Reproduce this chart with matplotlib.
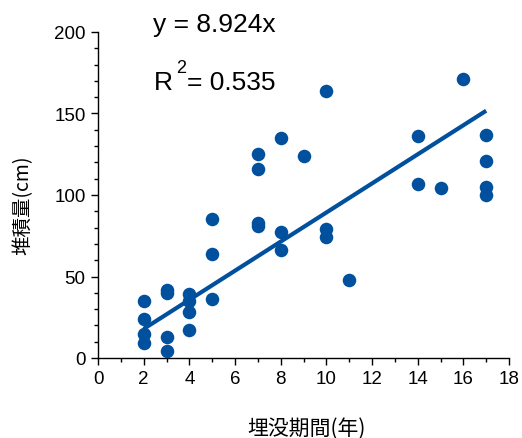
import matplotlib
matplotlib.use("Agg")
import matplotlib.pyplot as plt
from matplotlib.ticker import MultipleLocator
import numpy as np

# burial period (years) vs. accumulation (cm)
years = [2, 2, 2, 2,
         3, 3, 3, 3,
         4, 4, 4, 4,
         5, 5, 5,
         7, 7, 7, 7,
         8, 8, 8,
         9,
         10, 10, 10,
         11,
         14, 14,
         15,
         16,
         17, 17, 17, 17]
amount = [35, 24, 15, 9,
          42, 40, 13, 4,
          39, 35, 28, 17,
          85, 64, 36,
          125, 116, 83, 81,
          135, 77, 66,
          124,
          164, 79, 74,
          48,
          136, 107,
          104,
          171,
          137, 121, 105, 100]

slope = 8.924
r2 = 0.535
fit_x = [2, 17]

blue = "#00509E"

fig = plt.figure(figsize=(5.22, 4.39), dpi=100)
ax = fig.add_axes([98 / 522, 80 / 439, 411 / 522, 326 / 439])

ax.scatter(years, amount, s=95, color=blue, zorder=3, linewidths=0,
           clip_on=False)
fx = np.array(fit_x)
ax.plot(fx, slope * fx, color=blue, lw=3, solid_capstyle="butt", zorder=2)

ax.set_xlim(0, 18)
ax.set_ylim(0, 200)
ax.xaxis.set_major_locator(MultipleLocator(2))
ax.xaxis.set_minor_locator(MultipleLocator(1))
ax.yaxis.set_major_locator(MultipleLocator(50))
ax.yaxis.set_minor_locator(MultipleLocator(10))
for side in ("top", "right"):
    ax.spines[side].set_visible(False)
for side in ("left", "bottom"):
    ax.spines[side].set_linewidth(1.0)
ax.tick_params(which="major", direction="out", length=5, width=1,
               labelsize=13.5, pad=4)
ax.tick_params(which="minor", direction="out", length=3, width=1)
for lab in ax.get_xticklabels() + ax.get_yticklabels():
    lab.set_fontfamily("Liberation Sans")

# regression text
fig.text(153 / 522, 1 - 32 / 439, "y = 8.924x", fontsize=19,
         family="Liberation Sans", va="baseline", ha="left")
fig.text(154 / 522, 1 - 90 / 439, "R", fontsize=19,
         family="Liberation Sans", va="baseline", ha="left")
fig.text(176 / 522, 1 - 73 / 439, "2", fontsize=13,
         family="Liberation Sans", va="baseline", ha="left")
fig.text(187 / 522, 1 - 90 / 439, "= %.3f" % r2, fontsize=19,
         family="Liberation Sans", va="baseline", ha="left")

fig.text(307 / 522, 1 - 429 / 439, "埋没期間(年)", fontsize=15,
         family=["Noto Sans CJK JP", "DejaVu Sans"], ha="center", va="center")
fig.text(23 / 522, 1 - 205 / 439, "堆積量(cm)", fontsize=14, rotation=90,
         family=["Noto Sans CJK JP", "DejaVu Sans"], ha="center", va="center")

fig.savefig("out.png", dpi=100)
